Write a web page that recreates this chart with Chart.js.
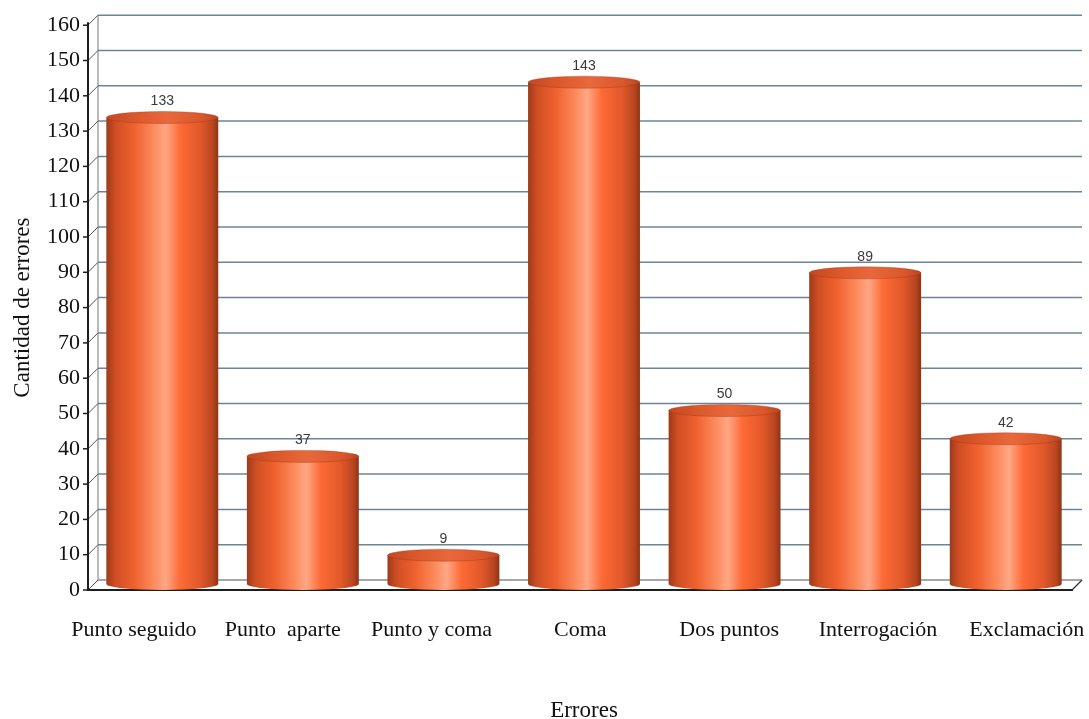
<!DOCTYPE html>
<html>
<head>
<meta charset="utf-8">
<style>
  html, body { margin: 0; padding: 0; background: #ffffff; }
  #wrap { width: 1089px; height: 719px; }
</style>
<script src="https://cdn.jsdelivr.net/npm/chart.js@4/dist/chart.umd.min.js"></script>
</head>
<body>
<div id="wrap"><canvas id="chart" width="1089" height="719"></canvas></div>
<script>
// Tipos de error de puntuación y su frecuencia
const categories = ['Punto seguido', 'Punto  aparte', 'Punto y coma', 'Coma', 'Dos puntos', 'Interrogación', 'Exclamación'];
const errorCounts = [133, 37, 9, 143, 50, 89, 42];
const yTicks = [0, 10, 20, 30, 40, 50, 60, 70, 80, 90, 100, 110, 120, 130, 140, 150, 160];

const SERIF = '"Liberation Serif", "Times New Roman", serif';
const SANS = '"Liberation Sans", Arial, sans-serif';
const DEPTH_X = 10;   // desplazamiento de la pared del fondo
const DEPTH_Y = -10;
const CAP_RY = 6;     // radio vertical de las tapas de los cilindros

// Pared del fondo, suelo y eje frontal en perspectiva
const wallPlugin = {
  id: 'wall',
  beforeDatasetsDraw(chart) {
    const { ctx, chartArea } = chart;
    const y = chart.scales.y;
    const axisX = chartArea.left - 4;
    const backX = axisX + DEPTH_X;
    const rightBack = chartArea.right + 6;
    const y0 = y.getPixelForValue(0);
    ctx.save();
    // líneas de la cuadrícula sobre la pared del fondo
    yTicks.forEach(v => {
      const py = y.getPixelForValue(v);
      ctx.strokeStyle = v === 0 ? '#8a8a8a' : '#6b8597';
      ctx.lineWidth = 1.5;
      ctx.beginPath();
      ctx.moveTo(backX, py + DEPTH_Y);
      ctx.lineTo(rightBack, py + DEPTH_Y);
      ctx.stroke();
      // diagonales entre el eje y la pared
      ctx.strokeStyle = '#555';
      ctx.lineWidth = 1;
      ctx.beginPath();
      ctx.moveTo(axisX, py);
      ctx.lineTo(backX, py + DEPTH_Y);
      ctx.stroke();
    });
    // arista vertical de la pared
    ctx.strokeStyle = '#777';
    ctx.lineWidth = 1;
    ctx.beginPath();
    ctx.moveTo(backX, y.getPixelForValue(160) + DEPTH_Y);
    ctx.lineTo(backX, y0 + DEPTH_Y);
    ctx.stroke();
    // borde derecho del suelo
    ctx.strokeStyle = '#333';
    ctx.lineWidth = 1.2;
    ctx.beginPath();
    ctx.moveTo(rightBack - DEPTH_X, y0);
    ctx.lineTo(rightBack, y0 + DEPTH_Y);
    ctx.stroke();
    ctx.restore();
  },
  afterDatasetsDraw(chart) {
    const { ctx, chartArea } = chart;
    const y = chart.scales.y;
    const axisX = chartArea.left - 4;
    const y0 = y.getPixelForValue(0);
    ctx.save();
    ctx.strokeStyle = '#1e1e1e';
    ctx.lineWidth = 2;
    // eje vertical frontal
    ctx.beginPath();
    ctx.moveTo(axisX, y.getPixelForValue(160) - 3);
    ctx.lineTo(axisX, y0 + 1);
    ctx.stroke();
    // borde frontal del suelo
    ctx.beginPath();
    ctx.moveTo(axisX, y0);
    ctx.lineTo(chartArea.right - 3, y0);
    ctx.stroke();
    // marcas del eje
    ctx.lineWidth = 1.5;
    yTicks.forEach(v => {
      const py = y.getPixelForValue(v);
      ctx.beginPath();
      ctx.moveTo(axisX - 5, py);
      ctx.lineTo(axisX, py);
      ctx.stroke();
    });
    ctx.restore();
  }
};

// Barras dibujadas como cilindros a partir de los elementos de Chart.js
const cylinderPlugin = {
  id: 'cylinders',
  afterDatasetsDraw(chart) {
    const { ctx } = chart;
    const meta = chart.getDatasetMeta(0);
    const values = chart.data.datasets[0].data;
    meta.data.forEach((bar, i) => {
      const { x, y, base, width } = bar.getProps(['x', 'y', 'base', 'width'], true);
      const l = x - width / 2;
      const r = x + width / 2;
      const rx = width / 2;
      const yTop = y - 3;
      const yBot = base - CAP_RY;
      ctx.save();
      // cuerpo
      const g = ctx.createLinearGradient(l, 0, r, 0);
      g.addColorStop(0.00, '#9c3a1a');
      g.addColorStop(0.08, '#cf4e24');
      g.addColorStop(0.25, '#f0612f');
      g.addColorStop(0.42, '#fb8a5c');
      g.addColorStop(0.53, '#ffa785');
      g.addColorStop(0.66, '#fd6a35');
      g.addColorStop(0.84, '#e1582a');
      g.addColorStop(0.95, '#b84620');
      g.addColorStop(1.00, '#8e3316');
      ctx.fillStyle = g;
      ctx.beginPath();
      ctx.moveTo(l, yTop);
      ctx.lineTo(l, yBot);
      ctx.ellipse(x, yBot, rx, CAP_RY, 0, Math.PI, 0, true);
      ctx.lineTo(r, yTop);
      ctx.closePath();
      ctx.fill();
      // tapa superior
      const gt = ctx.createLinearGradient(l, 0, r, 0);
      gt.addColorStop(0.00, '#c34821');
      gt.addColorStop(0.30, '#de5a2d');
      gt.addColorStop(0.55, '#e8683c');
      gt.addColorStop(0.85, '#da572a');
      gt.addColorStop(1.00, '#bb4520');
      ctx.fillStyle = gt;
      ctx.beginPath();
      ctx.ellipse(x, yTop, rx, CAP_RY, 0, 0, Math.PI * 2);
      ctx.fill();
      ctx.strokeStyle = 'rgba(150,50,20,0.35)';
      ctx.lineWidth = 1;
      ctx.stroke();
      // etiqueta de valor
      ctx.fillStyle = '#3a3a3a';
      ctx.font = '14px ' + SANS;
      ctx.textAlign = 'center';
      ctx.textBaseline = 'middle';
      ctx.fillText(String(values[i]), x, yTop - CAP_RY - 10);
      ctx.restore();
    });
  }
};

new Chart(document.getElementById('chart'), {
  type: 'bar',
  data: {
    labels: categories,
    datasets: [{
      label: 'Cantidad de errores',
      data: errorCounts,
      backgroundColor: 'rgba(0,0,0,0)',
      borderWidth: 0,
      barPercentage: 0.796,
      categoryPercentage: 1.0
    }]
  },
  options: {
    responsive: false,
    animation: false,
    devicePixelRatio: 1,
    layout: { padding: { top: 25, right: 13, left: 0, bottom: 0 } },
    plugins: {
      legend: { display: false },
      tooltip: { enabled: false }
    },
    scales: {
      // eje de categorías que sitúa los cilindros
      x: {
        display: false,
        grid: { display: false }
      },
      // eje de rótulos de categoría, con su propio espaciado
      xl: {
        type: 'linear',
        position: 'bottom',
        offset: false,
        min: -0.282,
        max: 6.331,
        grid: { display: false, drawTicks: false, offset: false },
        border: { display: false },
        afterBuildTicks(scale) { scale.ticks = categories.map((_, i) => ({ value: i })); },
        ticks: {
          color: '#111',
          font: { family: SERIF, size: 22 },
          padding: 27,
          maxRotation: 0,
          autoSkip: false,
          callback: (value) => categories[value]
        },
        title: { display: true, text: 'Errores', color: '#111', font: { family: SERIF, size: 23, lineHeight: 1 }, padding: { top: 0, bottom: -3 } },
        afterFit(scale) {
          scale.height = 129;
          scale.paddingLeft = 0;
          scale.paddingRight = 0;
        }
      },
      y: {
        min: 0,
        max: 160,
        grid: { display: false, drawTicks: false },
        border: { display: false },
        ticks: { stepSize: 10, color: '#111', font: { family: SERIF, size: 22 }, padding: 12 },
        title: { display: true, text: 'Cantidad de errores', color: '#111', font: { family: SERIF, size: 23 }, padding: { top: 9, bottom: 0 } },
        afterFit(scale) { scale.width = 92; }
      }
    }
  },
  plugins: [wallPlugin, cylinderPlugin]
});
</script>
</body>
</html>
